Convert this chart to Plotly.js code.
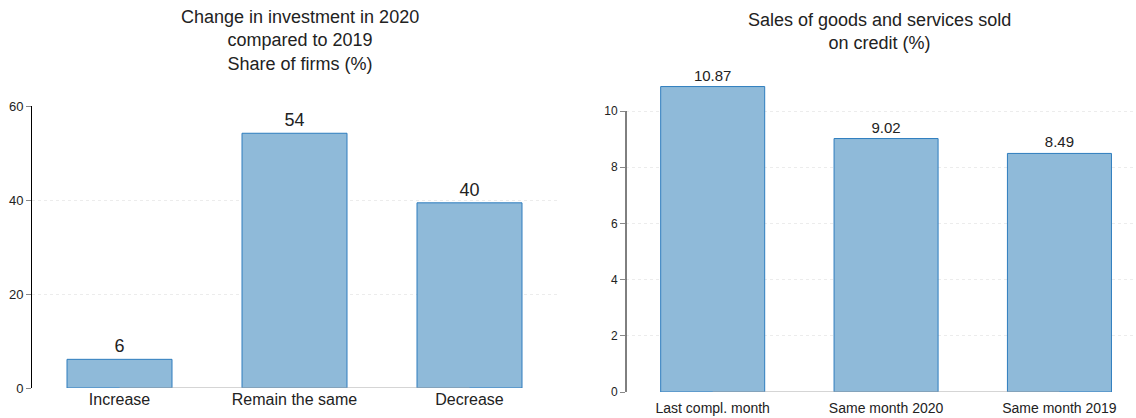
<!DOCTYPE html>
<html>
<head>
<meta charset="utf-8">
<script src="https://cdn.plot.ly/plotly-3.0.1.min.js"></script>
<style>html,body{margin:0;padding:0;background:#fff;}#chart{width:1136px;height:418px;}</style>
</head>
<body>
<div id="chart"></div>
<script>
const investCategories = ["Increase", "Remain the same", "Decrease"];
const investShares = [6.1, 54.2, 39.4];
const investLabels = ["6", "54", "40"];
const investTickVals = [0, 20, 40, 60];

const creditCategories = ["Last compl. month", "Same month 2020", "Same month 2019"];
const creditShares = [10.87, 9.02, 8.49];
const creditLabels = ["10.87", "9.02", "8.49"];
const creditTickVals = [0, 2, 4, 6, 8, 10];

const leftTitle = "Change in investment in 2020<br>compared to 2019<br>Share of firms (%)";
const rightTitle = "Sales of goods and services sold<br>on credit (%)";

const FONT = "Liberation Sans, Arial, sans-serif";
const barFill = "rgb(143,186,217)";
const barLine = "rgb(46,125,190)";

const traces = [
  {
    type: "bar", x: investCategories, y: investShares, text: investLabels,
    textposition: "outside", cliponaxis: false, width: 0.6,
    textfont: {family: FONT, size: 18, color: "#222"},
    marker: {color: barFill, line: {color: barLine, width: 1}},
    xaxis: "x", yaxis: "y", hoverinfo: "none"
  },
  {
    type: "bar", x: creditCategories, y: creditShares, text: creditLabels,
    textposition: "outside", cliponaxis: false, width: 0.6,
    textfont: {family: FONT, size: 15, color: "#222"},
    marker: {color: barFill, line: {color: barLine, width: 1}},
    xaxis: "x2", yaxis: "y2", hoverinfo: "none"
  }
];

const W = 1136, H = 418;
const px = v => v / W;
const py = v => (H - v) / H;

const yCommon = {
  showgrid: true, gridcolor: "#ececec", griddash: "dot", gridwidth: 1,
  zeroline: false, ticks: "outside", ticklen: 5, tickcolor: "#888",
  tickfont: {family: FONT, size: 13, color: "#222"}, fixedrange: true
};

const layout = {
  width: W, height: H,
  margin: {l: 0, r: 0, t: 0, b: 0},
  paper_bgcolor: "#fff", plot_bgcolor: "#fff",
  showlegend: false,
  font: {family: FONT, color: "#222"},
  xaxis: {
    domain: [px(32), px(557)], range: [-0.5, 2.5], type: "category",
    showline: false, showgrid: false, zeroline: false, ticks: "",
    tickfont: {family: FONT, size: 16, color: "#222"}
  },
  yaxis: Object.assign({}, yCommon, {
    domain: [py(388), py(106)], range: [0, 60], tickvals: investTickVals,
    showline: true, linecolor: "#000", linewidth: 1
  }),
  xaxis2: {
    domain: [px(626), px(1134)], range: [-0.5, 2.43], type: "category", anchor: "y2",
    showline: false, showgrid: false, zeroline: false, ticks: "outside", ticklen: 3, tickcolor: "rgba(0,0,0,0)",
    tickfont: {family: FONT, size: 14, color: "#222"}
  },
  yaxis2: Object.assign({}, yCommon, {
    domain: [py(392), py(392 - 11 * 28.1)], range: [0, 11], tickvals: creditTickVals,
    anchor: "x2", showline: false, tickfont: {family: FONT, size: 12, color: "#222"}
  }),
  shapes: [
    {type: "line", xref: "x", yref: "y", x0: investCategories[0], x1: investCategories[investCategories.length - 1],
     y0: 0, y1: 0, line: {color: "#aaa", width: 1}},
    {type: "line", xref: "x2", yref: "y2", x0: creditCategories[0], x1: creditCategories[creditCategories.length - 1],
     y0: 0, y1: 0, line: {color: "#aaa", width: 1}},
    {type: "line", xref: "x2 domain", yref: "y2", x0: 0, x1: 0,
     y0: creditTickVals[0], y1: creditTickVals[creditTickVals.length - 1], line: {color: "#000", width: 1}}
  ],
  annotations: [
    {text: leftTitle, xref: "paper", yref: "paper", x: px(300), y: py(5), xanchor: "center", yanchor: "top",
     showarrow: false, font: {family: FONT, size: 18, color: "#222"}},
    {text: rightTitle, xref: "paper", yref: "paper", x: px(879), y: py(8), xanchor: "center", yanchor: "top",
     showarrow: false, font: {family: FONT, size: 18, color: "#222"}}
  ]
};

Plotly.newPlot("chart", traces, layout, {displayModeBar: false, staticPlot: true});
</script>
</body>
</html>
